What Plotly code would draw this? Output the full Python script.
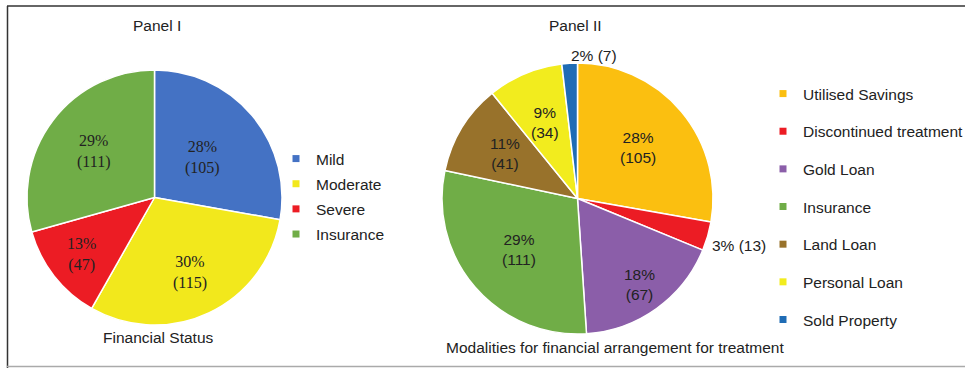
import math
import plotly.graph_objects as go

# ---------------- data ----------------
status_labels = ["Mild", "Moderate", "Severe", "Insurance"]
status_counts = [105, 115, 47, 111]
status_pct = [28, 30, 13, 29]
status_colors = ["#4472C4", "#F2E81C", "#EC1C24", "#70AD47"]

mod_labels = ["Utilised Savings", "Discontinued treatment", "Gold Loan", "Insurance",
              "Land Loan", "Personal Loan", "Sold Property"]
mod_counts = [105, 13, 67, 111, 41, 34, 7]
mod_pct = [28, 3, 18, 29, 11, 9, 2]
mod_colors = ["#FBBF10", "#EC1C24", "#8B5EA9", "#70AD47", "#98722B", "#F2EC1E", "#1F6CB5"]
mod_outside = [False, True, False, False, False, False, True]

# ---------------- style / layout ----------------
W, H = 965, 368
SANS = "Liberation Sans, Arial, sans-serif"
SERIF = "Liberation Serif, Times New Roman, serif"
TXT = "#222222"

# pie geometry (pixels): centre x, centre y, radius
P1 = (154.5, 197.5, 127.5)
P2 = (577.5, 198.5, 135.5)
# radial position of each data label as a fraction of the radius
status_label_r = [0.49, 0.65, 0.73, 0.60]
mod_label_r = [0.58, 1.24, 0.78, 0.57, 0.63, 0.61, 1.06]
mod_label_anchor = ["center", "center", "center", "center", "center", "center", "left"]


def domain(p):
    cx, cy, r = p
    return dict(x=[(cx - r) / W, (cx + r) / W], y=[(H - cy - r) / H, (H - cy + r) / H])


def label_annotations(values, texts, rfrac, p, font, anchors=None):
    cx, cy, R = p
    total = float(sum(values))
    cum = 0.0
    out = []
    for i, v in enumerate(values):
        mid = (cum + v / 2.0) / total * 2 * math.pi
        cum += v
        px = cx + rfrac[i] * R * math.sin(mid)
        py = cy - rfrac[i] * R * math.cos(mid)
        out.append(dict(text=texts[i], x=px / W, y=1 - py / H, xref="paper", yref="paper",
                        showarrow=False, font=font, align="center",
                        xanchor=(anchors[i] if anchors else "center"), yanchor="middle"))
    return out


fig = go.Figure()

fig.add_trace(go.Pie(
    labels=status_labels, values=status_counts, textinfo="none",
    sort=False, direction="clockwise", rotation=0,
    marker=dict(colors=status_colors, line=dict(color="white", width=1.5)),
    domain=domain(P1), showlegend=False, hoverinfo="label+value+percent",
))

fig.add_trace(go.Pie(
    labels=mod_labels, values=mod_counts, textinfo="none",
    sort=False, direction="clockwise", rotation=0,
    marker=dict(colors=mod_colors, line=dict(color="white", width=1.5)),
    domain=domain(P2), showlegend=False, hoverinfo="label+value+percent",
))

# legend entries
for lab, col in zip(status_labels, status_colors):
    fig.add_trace(go.Scatter(x=[None], y=[None], mode="markers", name=lab,
                             marker=dict(symbol="square", size=7, color=col),
                             legend="legend", legendgroup="a" + lab))
for lab, col in zip(mod_labels, mod_colors):
    fig.add_trace(go.Scatter(x=[None], y=[None], mode="markers", name=lab,
                             marker=dict(symbol="square", size=7, color=col),
                             legend="legend2", legendgroup="b" + lab))

legfont = dict(family=SANS, size=15.5, color=TXT)

status_texts = [f"{p}%<br>({v})" for p, v in zip(status_pct, status_counts)]
mod_texts = [(f"{p}% ({v})" if o else f"{p}%<br>({v})")
             for p, v, o in zip(mod_pct, mod_counts, mod_outside)]

annotations = []
annotations += label_annotations(status_counts, status_texts, status_label_r, P1,
                                 dict(family=SERIF, size=16, color=TXT))
annotations += label_annotations(mod_counts, mod_texts, mod_label_r, P2,
                                 dict(family=SANS, size=15.5, color=TXT), mod_label_anchor)
annotations += [
    dict(text="Panel I", x=157 / W, y=(H - 26) / H, xref="paper", yref="paper",
         showarrow=False, font=legfont, xanchor="center", yanchor="middle"),
    dict(text="Financial Status", x=158 / W, y=(H - 337) / H, xref="paper", yref="paper",
         showarrow=False, font=legfont, xanchor="center", yanchor="middle"),
    dict(text="Panel II", x=575 / W, y=(H - 26) / H, xref="paper", yref="paper",
         showarrow=False, font=legfont, xanchor="center", yanchor="middle"),
    dict(text="Modalities for financial arrangement for treatment", x=615 / W,
         y=(H - 347) / H, xref="paper", yref="paper",
         showarrow=False, font=legfont, xanchor="center", yanchor="middle"),
]

fig.update_layout(
    width=W, height=H, margin=dict(l=0, r=0, t=0, b=0, autoexpand=False),
    paper_bgcolor="white", plot_bgcolor="white",
    xaxis=dict(visible=False), yaxis=dict(visible=False),
    legend=dict(x=276 / W, xanchor="left", y=(H - 142) / H, yanchor="top",
                font=legfont, traceorder="grouped", tracegroupgap=2,
                bgcolor="rgba(0,0,0,0)"),
    legend2=dict(x=763 / W, xanchor="left", y=(H - 77) / H, yanchor="top",
                 font=legfont, traceorder="grouped", tracegroupgap=14.5,
                 bgcolor="rgba(0,0,0,0)"),
    annotations=annotations,
    shapes=[
        dict(type="line", xref="paper", yref="paper", x0=7 / W, x1=1, y0=(H - 6) / H, y1=(H - 6) / H,
             line=dict(color="#333333", width=1.5)),
        dict(type="line", xref="paper", yref="paper", x0=7.5 / W, x1=7.5 / W, y0=0, y1=(H - 6) / H,
             line=dict(color="#333333", width=1.5)),
        dict(type="line", xref="paper", yref="paper", x0=7 / W, x1=1, y0=(H - 366.5) / H, y1=(H - 366.5) / H,
             line=dict(color="#AAAAAA", width=1.5)),
    ],
)

fig.write_html("out.html")
